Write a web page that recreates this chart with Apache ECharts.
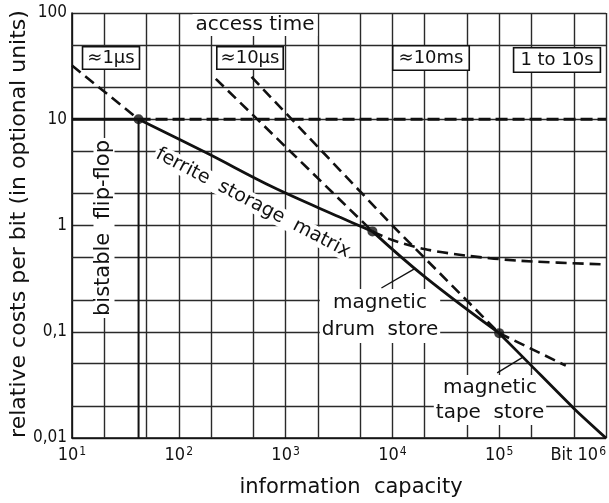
<!DOCTYPE html>
<html><head><meta charset="utf-8">
<script src="https://cdn.jsdelivr.net/npm/echarts@6/dist/echarts.min.js"></script>
<style>html,body{margin:0;padding:0;background:#fff}#c{width:609px;height:503px}</style>
</head><body><div id="c"></div>
<script>
// ---- data (log-log: information capacity [bit] vs relative cost per bit) ----
const yTickLabels = {'2':'100','1':'10','0':'1','-1':'0,1','-2':'0,01'};
const gridX = [20,50,200,500,2000,5000,20000,50000,200000,500000];
const gridY = [0.02,0.05,0.2,0.5,2,5,20,50];
const points = [[42,10],[6500,0.88],[100000,0.097]];
const flipFlopSolid = [[10,10],[42,10]];
const flipFlopDashed = [[42,10],[1000000,10]];
const flipFlopVertical = [[42,10],[42,0.01]];
const ferriteDashed = [[10,32],[42,10]];
const ferriteSolid = [[42,10],[183,4.8],[757,2.3],[3200,1.2],[6500,0.88]];
const drumDashedIn = [[222,24],[6500,0.88]];
const drumDashedOut = [[6500,0.88],[10000,0.73],[20000,0.6],[50000,0.52],[160000,0.465],[1000000,0.43]];
const drumSolid = [[6500,0.88],[20000,0.33],[100000,0.097]];
const tapeDashedIn = [[480,25],[10000,1.0],[100000,0.097]];
const tapeDashedOut = [[100000,0.097],[420000,0.048]];
const tapeSolid = [[100000,0.097],[200000,0.048],[500000,0.019],[1000000,0.01]];
const drumLeader = [[7890,0.258],[16070,0.39]];
const tapeLeader = [[95700,0.041],[167000,0.0578]];

const INK = '#111';
const TXT = "'DejaVu Sans', sans-serif";
const NUM = "'DejaVu Sans Condensed', 'Liberation Sans Narrow', 'DejaVu Sans', sans-serif";
const dash = [11,6];

function line(data, width, type, smooth) {
  return {type:'line', data, showSymbol:false, symbol:'none', z:10, silent:true, smooth: smooth||false,
    lineStyle:{color:INK, width, type: type||'solid', cap:'butt'}};
}

const chart = echarts.init(document.getElementById('c'), null, {renderer:'canvas'});
const txt = (o) => Object.assign({type:'text', z:4, silent:true}, o);

chart.setOption({
  animation:false,
  backgroundColor:'#fff',
  grid:{left:72, right:2, top:13, bottom:65, containLabel:false},
  xAxis:{type:'log', logBase:10, min:10, max:1000000,
    axisLine:{show:true, onZero:false, lineStyle:{color:INK, width:1.6}},
    axisTick:{show:false},
    splitLine:{show:true, lineStyle:{color:'#2a2a2a', width:1.4}},
    axisLabel:{margin:8, alignMaxLabel:'right', color:INK,
      formatter:function(v){const e=Math.round(Math.log10(v)); return (e===6?'{b|Bit 10}':'{b|10}')+'{s|'+e+'}';},
      rich:{b:{fontSize:18, fontFamily:NUM, color:INK}, s:{fontSize:12, fontFamily:NUM, color:INK, padding:[0,0,7,1]}}}
  },
  yAxis:{type:'log', logBase:10, min:0.01, max:100,
    axisLine:{show:true, onZero:false, lineStyle:{color:INK, width:1.6}},
    axisTick:{show:false},
    splitLine:{show:true, lineStyle:{color:'#2a2a2a', width:1.4}},
    axisLabel:{margin:5, color:INK, fontSize:17, fontFamily:NUM,
      formatter:function(v){return yTickLabels[String(Math.round(Math.log10(v)))];}}
  },
  graphic:[
    txt({x:19, y:224, rotation:Math.PI/2, style:{text:'relative costs per bit (in optional units)', fontSize:22, fontFamily:TXT, fill:INK, align:'center', verticalAlign:'middle'}}),
    txt({x:351, y:488, style:{text:'information  capacity', fontSize:21, fontFamily:TXT, fill:INK, align:'center', verticalAlign:'middle'}}),
    txt({x:255, y:25, style:{text:'access time', fontSize:20, fontFamily:TXT, fill:INK, align:'center', verticalAlign:'middle', backgroundColor:'#fff', padding:[1,3]}}),
    txt({x:111, y:58, style:{text:'≈1μs', fontSize:18, fontFamily:TXT, fill:INK, align:'center', verticalAlign:'middle', backgroundColor:'#fff', borderColor:INK, borderWidth:1.6, padding:[2,4,1,4]}}),
    txt({x:250, y:58, style:{text:'≈10μs', fontSize:18, fontFamily:TXT, fill:INK, align:'center', verticalAlign:'middle', backgroundColor:'#fff', borderColor:INK, borderWidth:1.6, padding:[2,3,1,3]}}),
    txt({x:431, y:58, style:{text:'≈10ms', fontSize:18, fontFamily:TXT, fill:INK, align:'center', verticalAlign:'middle', backgroundColor:'#fff', borderColor:INK, borderWidth:1.6, padding:[3,5,2,5]}}),
    txt({x:557, y:60, style:{text:'1 to 10s', fontSize:18, fontFamily:TXT, fill:INK, align:'center', verticalAlign:'middle', backgroundColor:'#fff', borderColor:INK, borderWidth:1.6, padding:[3,6,2,6]}}),
    txt({x:104, y:228, rotation:Math.PI/2, style:{text:'bistable  flip-flop', fontSize:21, fontFamily:TXT, fill:INK, align:'center', verticalAlign:'middle', backgroundColor:'#fff', padding:[0,2]}}),
    txt({x:253, y:203, rotation:-0.48, style:{text:'ferrite  storage  matrix', fontSize:19, fontFamily:TXT, fill:INK, align:'center', verticalAlign:'middle', backgroundColor:'#fff', padding:[0,2]}}),
    txt({x:380, y:316, style:{text:'magnetic\ndrum  store', fontSize:20, lineHeight:27, fontFamily:TXT, fill:INK, align:'center', verticalAlign:'middle', backgroundColor:'#fff', padding:[0,2]}}),
    txt({x:490, y:400, style:{text:'magnetic\ntape  store', fontSize:20, lineHeight:25, fontFamily:TXT, fill:INK, align:'center', verticalAlign:'middle', backgroundColor:'#fff', padding:[0,2]}})
  ],
  series:[
    {type:'line', data:[[10,100]], showSymbol:false, symbol:'none', z:1, silent:true, lineStyle:{width:0},
      markLine:{silent:true, symbol:'none', z:1, label:{show:false}, animation:false,
        lineStyle:{color:'#2a2a2a', width:1.4, type:'solid'},
        data:[].concat(gridX.map(v=>({xAxis:v})), gridY.map(v=>({yAxis:v})))}},
    line(flipFlopSolid, 3),
    line(flipFlopDashed, 3, [12,5]),
    line(flipFlopVertical, 2),
    line(ferriteDashed, 2.6, dash),
    line(ferriteSolid, 2.8, 'solid', 0.35),
    line(drumDashedIn, 2.6, dash),
    line(drumDashedOut, 2.6, dash, 0.3),
    line(drumSolid, 2.8, 'solid', 0.4),
    line(tapeDashedIn, 2.6, dash),
    line(tapeDashedOut, 2.6, dash),
    line(tapeSolid, 2.8, 'solid', 0.2),
    line(drumLeader, 1.4),
    line(tapeLeader, 1.4),
    {type:'scatter', data:points, symbol:'circle', symbolSize:10, z:12, silent:true, itemStyle:{color:INK}}
  ]
});
</script></body></html>
